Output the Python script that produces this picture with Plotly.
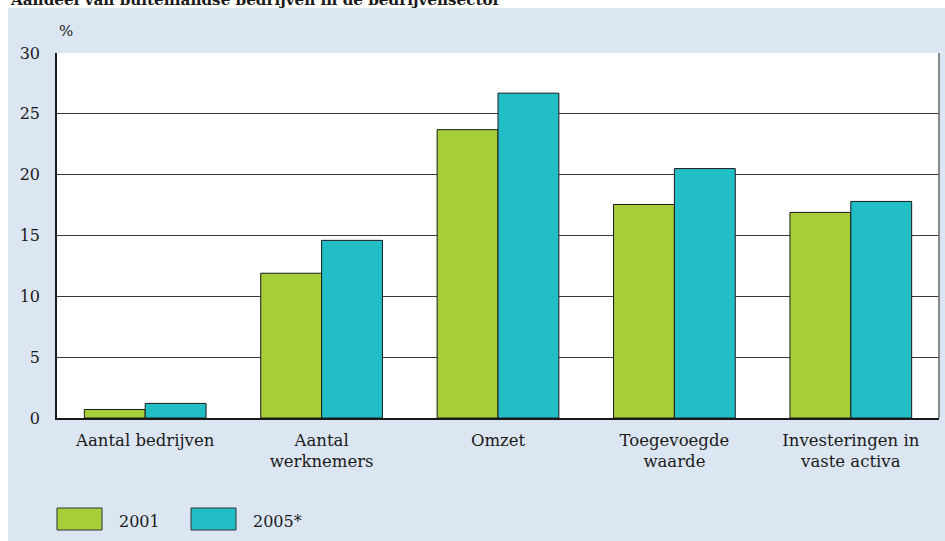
import plotly.graph_objects as go

categories = ["Aantal bedrijven", "Aantal<br>werknemers", "Omzet", "Toegevoegde<br>waarde", "Investeringen in<br>vaste activa"]
series_names = ["2001", "2005*"]
values_2001 = [0.7, 11.9, 23.7, 17.55, 16.9]
values_2005 = [1.2, 14.6, 26.7, 20.5, 17.8]
y_ticks = [0, 5, 10, 15, 20, 25, 30]
colors = ["#a6ce39", "#22bec6"]
title_text = "Aandeel van buitenlandse bedrijven in de bedrijvensector"

W, H = 945, 541
FONT = "DejaVu Serif"

fig = go.Figure()
for name, vals, col in zip(series_names, [values_2001, values_2005], colors):
    fig.add_trace(go.Bar(
        x=categories, y=vals, name=name,
        marker=dict(color=col, line=dict(color="#1a1a1a", width=1)),
        showlegend=False,
    ))

ml, mr, mt, mb = 57, 6, 53, 123
pw, ph = W - ml - mr, H - mt - mb


def px_x(x):
    return (x - ml) / pw


def px_y(y):
    return (mt + ph - y) / ph


fig.update_layout(
    width=W, height=H,
    margin=dict(l=ml, r=mr, t=mt, b=mb, autoexpand=False),
    paper_bgcolor="#dce6f2",
    plot_bgcolor="white",
    barmode="group",
    bargap=0.31,
    bargroupgap=0,
    font=dict(family=FONT, size=16, color="#1a1a1a"),
)
fig.update_yaxes(
    range=[0, 30], tickvals=y_ticks, showgrid=True, gridcolor="#3a3a3a", gridwidth=1,
    zeroline=False, showline=True, linecolor="#1a1a1a", linewidth=1.5,
    ticks="outside", ticklen=12, tickcolor="rgba(0,0,0,0)",
    tickfont=dict(size=16), automargin=False,
)
fig.update_xaxes(
    showline=True, linecolor="#1a1a1a", linewidth=1.5, mirror=False,
    ticks="outside", ticklen=6, tickcolor="rgba(0,0,0,0)",
    tickfont=dict(size=16.5), automargin=False,
)

# right border of plot
fig.add_shape(type="line", xref="paper", yref="paper", x0=1, x1=1, y0=0, y1=1,
              line=dict(color="#666666", width=1.5))

# white page strips (top and left)
fig.add_shape(type="rect", xref="paper", yref="paper",
              x0=px_x(-2), x1=px_x(W + 2), y0=px_y(8), y1=px_y(-2),
              fillcolor="white", line=dict(width=0), layer="below")
fig.add_shape(type="rect", xref="paper", yref="paper",
              x0=px_x(-2), x1=px_x(8), y0=px_y(H + 2), y1=px_y(-2),
              fillcolor="white", line=dict(width=0), layer="below")

# title, cut off at the top edge as in the reference
fig.add_annotation(text="<b>" + title_text + "</b>", xref="paper", yref="paper",
                   x=px_x(8), y=px_y(0), xanchor="left", yanchor="middle", showarrow=False,
                   font=dict(size=15.2, family=FONT, color="#1a1a1a"))

# % unit label
fig.add_annotation(text="%", xref="paper", yref="paper", x=px_x(57), y=px_y(31),
                   xanchor="left", yanchor="middle", showarrow=False, font=dict(size=15))

# legend swatches
lx = [57, 191]
for i, (name, col) in enumerate(zip(series_names, colors)):
    fig.add_shape(type="rect", xref="paper", yref="paper",
                  x0=px_x(lx[i]), x1=px_x(lx[i] + 45), y0=px_y(530), y1=px_y(508),
                  fillcolor=col, line=dict(color="#333333", width=1))
    fig.add_annotation(text=name, xref="paper", yref="paper", x=px_x(lx[i] + 60),
                       y=px_y(521), xanchor="left", yanchor="middle",
                       showarrow=False, font=dict(size=16))

fig.write_html("out.html", config={"displayModeBar": False},
               post_script="document.body.style.margin='0';")
